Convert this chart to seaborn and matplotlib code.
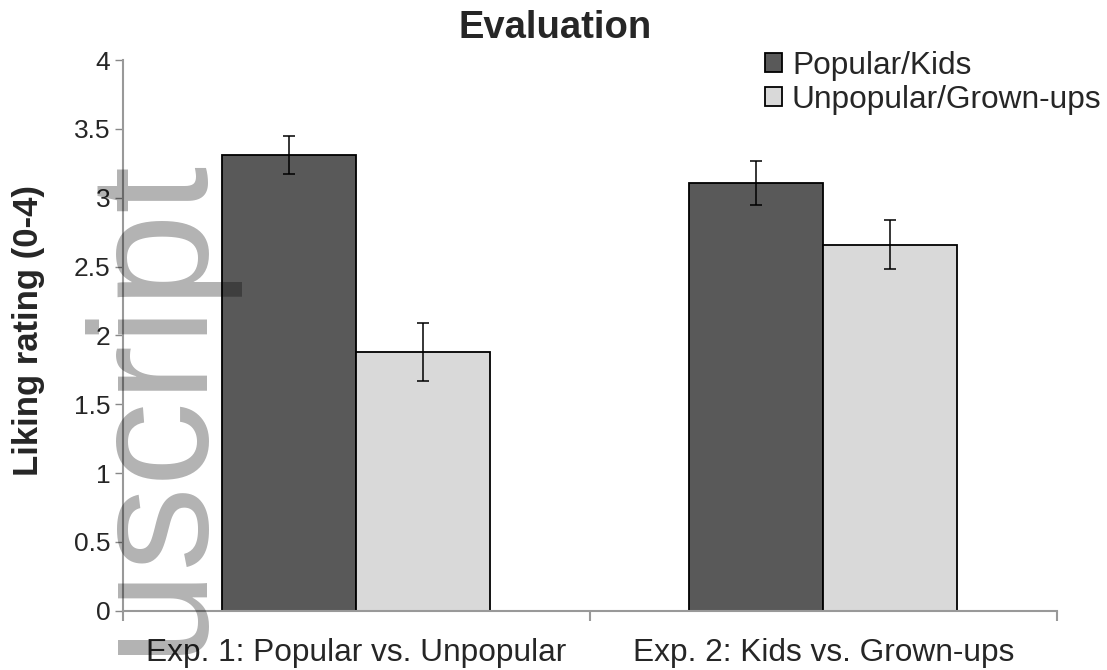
import pandas as pd
import seaborn as sns
import matplotlib.pyplot as plt
from matplotlib.ticker import FixedLocator

# values
experiments = ['Exp. 1: Popular vs. Unpopular', 'Exp. 2: Kids vs. Grown-ups']
groups = ['Popular/Kids', 'Unpopular/Grown-ups']
popular_kids = [3.31, 3.11]
popular_kids_err = [0.14, 0.16]
unpopular_grownups = [1.88, 2.66]
unpopular_grownups_err = [0.21, 0.18]
y_ticks = [0, 0.5, 1, 1.5, 2, 2.5, 3, 3.5, 4]
y_tick_labels = ['0', '0.5', '1', '1.5', '2', '2.5', '3', '3.5', '4']

df = pd.DataFrame({
    'experiment': experiments * 2,
    'group': [groups[0]] * 2 + [groups[1]] * 2,
    'rating': popular_kids + unpopular_grownups,
})
errs = [popular_kids_err, unpopular_grownups_err]

sns.set_style('white')
plt.rcParams['font.family'] = ['Liberation Sans', 'DejaVu Sans']

fig = plt.figure(figsize=(11.07, 6.70), dpi=100)
ax = fig.add_axes([0.1108, 0.0885, 0.8438, 0.8219])

sns.barplot(data=df, x='experiment', y='rating', hue='group', hue_order=groups,
            palette=['#595959', '#d9d9d9'], width=0.575, edgecolor='black',
            linewidth=1.3, errorbar=None, ax=ax)

# error bars on top of each bar
for cont, err in zip(ax.containers, errs):
    xs = [b.get_x() + b.get_width() / 2 for b in cont]
    ys = [b.get_height() for b in cont]
    ax.errorbar(xs, ys, yerr=err, fmt='none', ecolor='black', elinewidth=1.1,
                capsize=4.5, capthick=1.1, zorder=5)

ax.set_xlim(-0.5, 1.5)
ax.set_ylim(0, 4)
ax.set_yticks(y_ticks)
ax.set_yticklabels(y_tick_labels, fontsize=19)
ax.tick_params(axis='y', length=6, width=1, color='#888888', pad=3, left=True)
ax.tick_params(axis='x', which='major', length=0, labelsize=22.8, pad=20)
ax.xaxis.set_minor_locator(FixedLocator([-0.5, 0.5, 1.5]))
ax.tick_params(axis='x', which='minor', length=7, width=1.5, color='#999999',
               bottom=True, direction='out')
ax.set_xlabel('')
ax.set_ylabel('')
fig.text(29 / 1107, 1 - 330 / 670, 'Liking rating (0-4)', fontsize=25,
         fontweight='bold', rotation=90, ha='center', va='center')

sns.despine(ax=ax)
for side in ['left', 'bottom']:
    ax.spines[side].set_color('#999999')
    ax.spines[side].set_linewidth(1.5)

fig.text(555 / 1107, 1 - 38 / 670, 'Evaluation', fontsize=27.5,
         fontweight='bold', ha='center', va='baseline')

ax.legend(loc='upper left', bbox_to_anchor=(765 / 1107, 1 - 51 / 670),
          bbox_transform=fig.transFigure, frameon=False, fontsize=22.8,
          handlelength=0.55, handleheight=0.55, handletextpad=0.3,
          labelspacing=0.12, borderaxespad=0, borderpad=0)

# partial manuscript watermark over the left side
fig.text(197 / 1107, 1 - 155 / 670, 'uscript', fontsize=122, color='black',
         alpha=0.3, rotation=90, rotation_mode='anchor', ha='right',
         va='baseline', zorder=10)

fig.savefig('out.png', dpi=100)
